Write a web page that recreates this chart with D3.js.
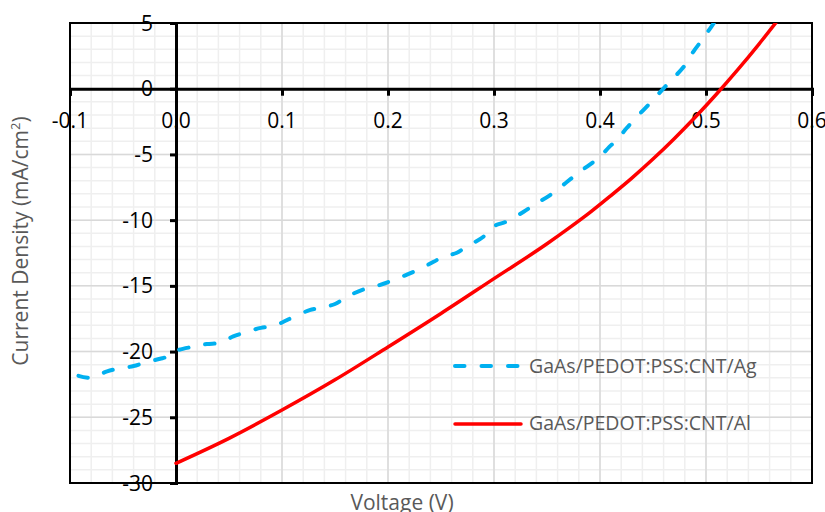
<!DOCTYPE html>
<html>
<head>
<meta charset="utf-8">
<script src="https://cdn.jsdelivr.net/npm/d3@7/dist/d3.min.js"></script>
<style>
  html, body { margin: 0; padding: 0; background: #fff; }
  svg { display: block; font-family: "Open Sans", sans-serif; }
</style>
</head>
<body>
<svg id="chart" width="825" height="512"></svg>
<script>
// ---- data ----
const agVoltage = [-0.092, -0.08, -0.065, -0.054, -0.04, -0.028, -0.015, -0.007, 0.0, 0.016, 0.029, 0.042, 0.054, 0.067, 0.08, 0.092, 0.101, 0.11, 0.126, 0.136, 0.15, 0.161, 0.177, 0.192, 0.205, 0.224, 0.243, 0.252, 0.265, 0.274, 0.29, 0.299, 0.312, 0.328, 0.34, 0.353, 0.369, 0.381, 0.394, 0.4, 0.409, 0.416, 0.425, 0.438, 0.45, 0.46, 0.469, 0.479, 0.488, 0.4975, 0.504, 0.51];
const agCurrent = [-21.85, -22.0, -21.5, -21.3, -21.1, -20.8, -20.55, -20.35, -19.95, -19.63, -19.43, -19.33, -18.85, -18.5, -18.2, -18.05, -17.75, -17.4, -16.85, -16.67, -16.38, -15.83, -15.27, -14.94, -14.56, -13.93, -13.17, -12.79, -12.48, -12.02, -11.26, -10.5, -10.1, -9.36, -8.72, -8.09, -7.08, -6.32, -5.56, -5.18, -4.41, -3.9, -3.01, -1.87, -0.86, 0.03, 0.79, 1.67, 2.81, 3.84, 4.6, 5.3];

const alVoltage = [0.0, 0.05, 0.1, 0.15, 0.2, 0.25, 0.3, 0.35, 0.37, 0.39, 0.41, 0.43, 0.45, 0.47, 0.49, 0.51, 0.53, 0.55, 0.57, 0.58];
const alCurrent = [-28.5, -26.6, -24.45, -22.15, -19.65, -17.1, -14.45, -11.8, -10.65, -9.45, -8.15, -6.8, -5.35, -3.8, -2.15, -0.4, 1.45, 3.4, 5.45, 6.5];

const seriesNames = ["GaAs/PEDOT:PSS:CNT/Ag", "GaAs/PEDOT:PSS:CNT/Al"];

const xTicks = [-0.1, 0, 0.1, 0.2, 0.3, 0.4, 0.5, 0.6];
const xTickLabels = ["-0.1", "0.0", "0.1", "0.2", "0.3", "0.4", "0.5", "0.6"];
const yTicks = [5, 0, -5, -10, -15, -20, -25, -30];
const yTickLabels = ["5", "0", "-5", "-10", "-15", "-20", "-25", "-30"];

const xTitle = "Voltage (V)";
const yTitle = "Current Density (mA/cm";

// ---- layout ----
const L = 70, R = 812, T = 23, B = 483;
const x = d3.scaleLinear().domain([-0.1, 0.6]).range([L, R]);
const y = d3.scaleLinear().domain([-30, 5]).range([B, T]);

const svg = d3.select("#chart");

svg.append("defs").append("clipPath").attr("id", "plotclip")
  .append("rect").attr("x", L).attr("y", T).attr("width", R - L).attr("height", B - T);

// minor grid
const xMinor = d3.range(-0.1, 0.6001, 0.02);
const yMinor = d3.range(-30, 5.001, 1);
const grid = svg.append("g");
grid.selectAll(".mx").data(xMinor).join("line")
  .attr("x1", d => x(d)).attr("x2", d => x(d)).attr("y1", T).attr("y2", B)
  .attr("stroke", "#efefef").attr("stroke-width", 1.5);
grid.selectAll(".my").data(yMinor).join("line")
  .attr("x1", L).attr("x2", R).attr("y1", d => y(d)).attr("y2", d => y(d))
  .attr("stroke", "#efefef").attr("stroke-width", 1.5);
// major grid
grid.selectAll(".Mx").data(xTicks).join("line")
  .attr("x1", d => x(d)).attr("x2", d => x(d)).attr("y1", T).attr("y2", B)
  .attr("stroke", "#d9d9d9").attr("stroke-width", 1.5);
grid.selectAll(".My").data(yTicks).join("line")
  .attr("x1", L).attr("x2", R).attr("y1", d => y(d)).attr("y2", d => y(d))
  .attr("stroke", "#d9d9d9").attr("stroke-width", 1.5);

// tick labels (under axes)
svg.append("g").selectAll("text").data(xTicks).join("text")
  .attr("x", d => x(d)).attr("y", 128)
  .attr("text-anchor", "middle").attr("font-size", 21).attr("fill", "#000")
  .text((d, i) => xTickLabels[i]);
svg.append("g").selectAll("text").data(yTicks).join("text")
  .attr("x", 153).attr("y", d => y(d)).attr("dy", "0.36em")
  .attr("text-anchor", "end").attr("font-size", 21).attr("fill", "#000")
  .text((d, i) => yTickLabels[i]);

// plot border
svg.append("rect").attr("x", L).attr("y", T).attr("width", R - L).attr("height", B - T)
  .attr("fill", "none").attr("stroke", "#000").attr("stroke-width", 2);

// axes through zero
const xAxisG = svg.append("g").attr("transform", `translate(0,${y(0)})`)
  .call(d3.axisBottom(x).tickValues(xTicks).tickSize(7).tickFormat(""));
xAxisG.select(".domain").attr("stroke", "#000").attr("stroke-width", 3);
xAxisG.selectAll(".tick line").attr("stroke", "#000").attr("stroke-width", 3);

const yAxisG = svg.append("g").attr("transform", `translate(${x(0)},0)`)
  .call(d3.axisLeft(y).tickValues(yTicks).tickSize(6).tickFormat(""));
yAxisG.select(".domain").attr("stroke", "#000").attr("stroke-width", 3);
yAxisG.selectAll(".tick line").attr("stroke", "#000").attr("stroke-width", 3);

// series
const agData = agVoltage.map((v, i) => [v, agCurrent[i]]);
const alData = alVoltage.map((v, i) => [v, alCurrent[i]]);
const lineAg = d3.line().x(d => x(d[0])).y(d => y(d[1])).curve(d3.curveCatmullRom.alpha(0.5));
const lineAl = d3.line().x(d => x(d[0])).y(d => y(d[1])).curve(d3.curveMonotoneX);

const series = svg.append("g").attr("clip-path", "url(#plotclip)");
series.append("path").datum(agData).attr("d", lineAg)
  .attr("fill", "none").attr("stroke", "#00b0f0").attr("stroke-width", 4)
  .attr("stroke-dasharray", "9.5,17").attr("stroke-linecap", "round");
series.append("path").datum(alData).attr("d", lineAl)
  .attr("fill", "none").attr("stroke", "#ff0000").attr("stroke-width", 3.5)
  .attr("stroke-linecap", "round");

// legend
const leg = svg.append("g");
leg.append("line").attr("x1", 455).attr("x2", 521).attr("y1", 366).attr("y2", 366)
  .attr("stroke", "#00b0f0").attr("stroke-width", 4)
  .attr("stroke-dasharray", "9.5,17").attr("stroke-linecap", "round");
leg.append("text").attr("x", 529).attr("y", 373).attr("font-size", 19.5).attr("fill", "#595959")
  .text(seriesNames[0]);
leg.append("line").attr("x1", 455).attr("x2", 521).attr("y1", 424).attr("y2", 424)
  .attr("stroke", "#ff0000").attr("stroke-width", 3.5).attr("stroke-linecap", "round");
leg.append("text").attr("x", 529).attr("y", 430).attr("font-size", 19.5).attr("fill", "#595959")
  .text(seriesNames[1]);

// axis titles
svg.append("text").attr("x", 402).attr("y", 510).attr("text-anchor", "middle")
  .attr("font-size", 21).attr("fill", "#595959").text(xTitle);
const yt = svg.append("text").attr("transform", "translate(28,241) rotate(-90)")
  .attr("text-anchor", "middle").attr("font-size", 21).attr("fill", "#595959");
yt.append("tspan").text(yTitle);
yt.append("tspan").attr("font-size", 13).attr("dy", "-0.6em").text("2");
yt.append("tspan").attr("dy", "0.38em").text(")");
</script>
</body>
</html>
